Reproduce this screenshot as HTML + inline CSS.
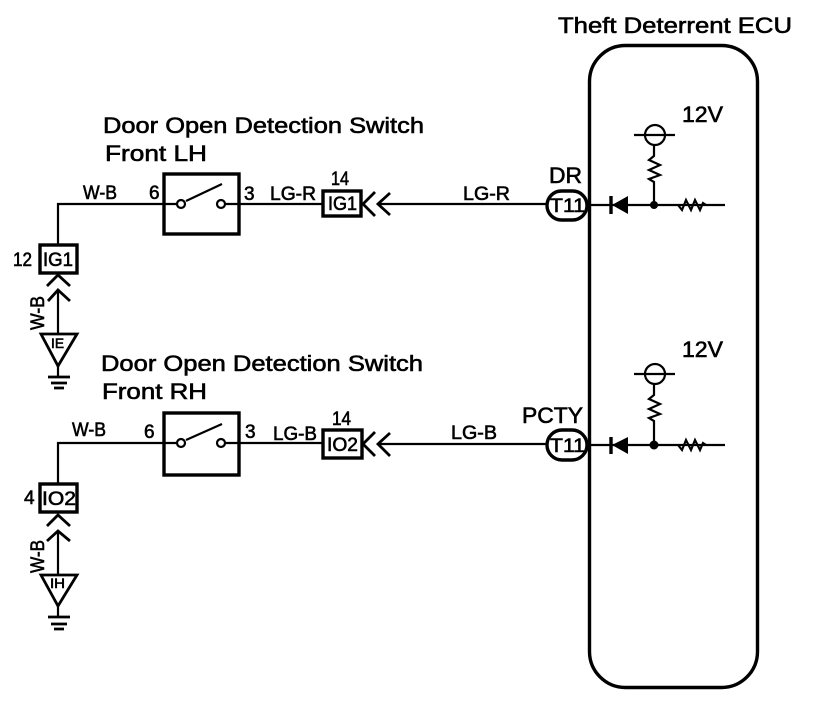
<!DOCTYPE html>
<html><head><meta charset="utf-8"><style>
html,body{margin:0;padding:0;background:#fff}
svg{display:block}
text{font-family:"Liberation Sans",sans-serif;fill:#000;stroke:#000;stroke-width:.6px}
.l{font-size:22px}.m{font-size:19px}.s{font-size:17px}.x{font-size:14px}
.w{fill:none;stroke:#000;stroke-width:2.2}
.c{fill:none;stroke:#000;stroke-width:2.8}
.b{fill:none;stroke:#000;stroke-width:3.4}
</style></head><body>
<svg width="832" height="704" viewBox="0 0 832 704" xmlns="http://www.w3.org/2000/svg">
<rect x="589.5" y="45.5" width="168" height="642" rx="36" ry="36" class="b" fill="none"/>
<text class="l" x="558" y="33" textLength="234" lengthAdjust="spacingAndGlyphs">Theft Deterrent ECU</text>

<!-- top labels -->
<text class="l" x="103" y="133" textLength="321" lengthAdjust="spacingAndGlyphs">Door Open Detection Switch</text>
<text class="l" x="105" y="161" textLength="102" lengthAdjust="spacingAndGlyphs">Front LH</text>
<text class="l" x="101" y="371" textLength="322" lengthAdjust="spacingAndGlyphs">Door Open Detection Switch</text>
<text class="l" x="102" y="399" textLength="105" lengthAdjust="spacingAndGlyphs">Front RH</text>

<!-- upper circuit -->
<path class="w" d="M58 244V204H177M225 204H322M378 204H546M588 205H725"/>
<rect x="164" y="174" width="75" height="60" class="b"/>
<circle cx="181" cy="204" r="4" class="w" fill="#fff"/><circle cx="221" cy="204" r="4" class="w" fill="#fff"/>
<path class="w" d="M186 201L222 184"/>
<rect x="323" y="191" width="38" height="25" class="b"/>
<path class="c" d="M375 192L363 204L375 216M390 193L378 204L390 215"/>
<rect x="40" y="245" width="37" height="28" class="b"/>
<path class="c" d="M47 286L58 275L70 286M48 301L58 290L70 301"/>
<path class="w" d="M58 290V333"/>
<path class="c" d="M41 334H77L58 366Z"/>
<path class="w" d="M58 366V377"/>
<path class="c" d="M48 377H70M51 383H67M54 388H64"/>
<rect x="547" y="191" width="40" height="29" rx="14.5" class="b"/>
<path d="M612 205L628 196V214Z"/><path class="b" d="M611 196V214"/>
<circle cx="654" cy="205" r="4"/>
<circle cx="655" cy="135" r="10" class="w"/>
<path class="w" d="M634 135H675M654 145V156L649 160L660 165L649 170L660 175L649 179L654 182V205"/>
<path class="w" d="M678 205L682 210L686 200L691 210L695 200L700 210L703 203L706 205"/>

<text class="m" x="83" y="199" textLength="34" lengthAdjust="spacingAndGlyphs">W-B</text>
<text class="m" x="149" y="199">6</text>
<text class="m" x="244" y="200">3</text>
<text class="m" x="270" y="200" textLength="46" lengthAdjust="spacingAndGlyphs">LG-R</text>
<text class="m" x="331" y="185" textLength="18" lengthAdjust="spacingAndGlyphs">14</text>
<text class="m" x="328" y="210" textLength="29" lengthAdjust="spacingAndGlyphs">IG1</text>
<text class="m" x="463" y="200" textLength="47" lengthAdjust="spacingAndGlyphs">LG-R</text>
<text class="l" x="549" y="183" textLength="33" lengthAdjust="spacingAndGlyphs">DR</text>
<text class="m" x="550" y="212" textLength="35" lengthAdjust="spacingAndGlyphs">T11</text>
<text class="m" x="13" y="266" textLength="19" lengthAdjust="spacingAndGlyphs">12</text>
<text class="m" x="43" y="266" textLength="30" lengthAdjust="spacingAndGlyphs">IG1</text>
<text class="m" transform="translate(44 330) rotate(-90)" textLength="34" lengthAdjust="spacingAndGlyphs">W-B</text>
<text class="x" x="51" y="348" textLength="13" lengthAdjust="spacingAndGlyphs">IE</text>
<text class="l" x="682" y="122" textLength="41" lengthAdjust="spacingAndGlyphs">12V</text>

<!-- lower circuit -->
<path class="w" d="M58 483V443H177M225 443H323M378 444H546M588 445H725"/>
<rect x="164" y="413" width="75" height="62" class="b"/>
<circle cx="181" cy="443" r="4" class="w" fill="#fff"/><circle cx="221" cy="443" r="4" class="w" fill="#fff"/>
<path class="w" d="M186 440L222 424"/>
<rect x="323" y="430" width="39" height="28" class="b"/>
<path class="c" d="M375 432L363 444L375 456M390 433L378 444L390 456"/>
<rect x="40" y="484" width="37" height="28" class="b"/>
<path class="c" d="M47 526L58 515L70 526M47 541L58 531L70 541"/>
<path class="w" d="M58 531V574"/>
<path class="c" d="M41 575H77L58 606Z"/>
<path class="w" d="M58 606V617"/>
<path class="c" d="M48 617H70M51 624H67M54 629H64"/>
<rect x="547" y="430" width="40" height="30" rx="15" class="b"/>
<path d="M612 445L628 437V454Z"/><path class="b" d="M611 437V454"/>
<circle cx="654" cy="445" r="4.5"/>
<circle cx="655" cy="374" r="10" class="w"/>
<path class="w" d="M634 374H675M654 384V395L649 399L660 404L649 409L660 414L649 418L654 421V445"/>
<path class="w" d="M678 445L682 450L686 440L691 450L695 440L700 450L703 443L706 445"/>

<text class="m" x="72" y="436" textLength="34" lengthAdjust="spacingAndGlyphs">W-B</text>
<text class="m" x="144" y="438">6</text>
<text class="m" x="245" y="438">3</text>
<text class="m" x="273" y="440" textLength="44" lengthAdjust="spacingAndGlyphs">LG-B</text>
<text class="m" x="332" y="425" textLength="19" lengthAdjust="spacingAndGlyphs">14</text>
<text class="m" x="327" y="451" textLength="31" lengthAdjust="spacingAndGlyphs">IO2</text>
<text class="m" x="451" y="439" textLength="46" lengthAdjust="spacingAndGlyphs">LG-B</text>
<text class="l" x="522" y="423" textLength="61" lengthAdjust="spacingAndGlyphs">PCTY</text>
<text class="m" x="550" y="452" textLength="35" lengthAdjust="spacingAndGlyphs">T11</text>
<text class="m" x="24" y="504">4</text>
<text class="m" x="42" y="505" textLength="34" lengthAdjust="spacingAndGlyphs">IO2</text>
<text class="m" transform="translate(44 573) rotate(-90)" textLength="33" lengthAdjust="spacingAndGlyphs">W-B</text>
<text class="x" x="50" y="588" textLength="15" lengthAdjust="spacingAndGlyphs">IH</text>
<text class="l" x="682" y="357" textLength="41" lengthAdjust="spacingAndGlyphs">12V</text>
</svg>
</body></html>
